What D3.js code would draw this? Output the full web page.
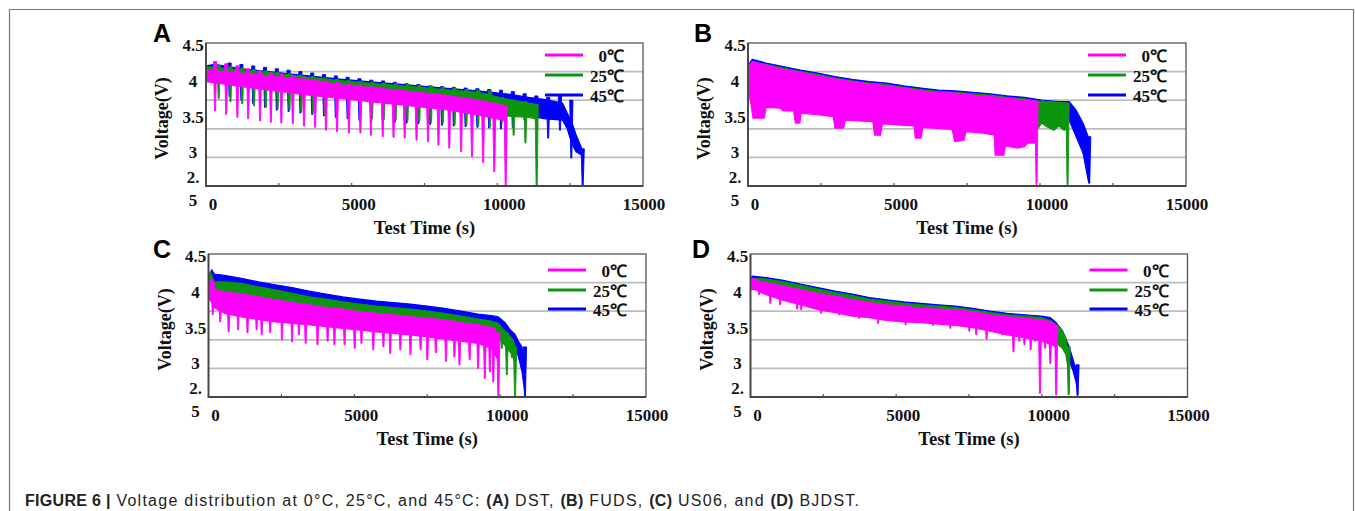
<!DOCTYPE html>
<html><head><meta charset="utf-8">
<script src="https://cdn.jsdelivr.net/npm/d3@7"></script>
<style>body{margin:0;background:#fff}svg{display:block}</style>
</head><body>
<svg id="chart" width="1355" height="511"></svg>
<script>
// ---------------- DATA ----------------
const seriesNames = [" 0℃", "25℃", "45℃"];
const seriesColors = ["#ff00ff", "#0d960d", "#0000ff"];
const xTickValues = [0, 5000, 10000, 15000];
const xMinorTicks = [2500, 5000, 7500, 10000, 12500];
const yTickValues = [4.5, 4, 3.5, 3];
const yTickLabels = ["4.5", "4", "3.5", "3"];
const yLastLabelParts = ["2.", "5"];
const yGridValues = [4.1, 3.7, 3.3, 2.9];
const panelLetters = ["A", "B", "C", "D"];
const xTitle = "Test Time (s)";
const yTitle = "Voltage(V)";

// Panel A - DST : [time, voltage] envelopes and [time, top, bottom] pulses
const dstPinkUpper = [[0,4.12],[1216,4.08],[2377,4.03],[3537,3.98],[4697,3.91],[5858,3.87],[7018,3.82],[8178,3.77],[9339,3.70],[10209,3.63],[10287,3.60]];
const dstPinkLower = [[0,3.96],[1216,3.89],[2377,3.83],[3537,3.77],[4697,3.72],[5858,3.67],[7018,3.62],[8178,3.57],[9339,3.49],[10209,3.42],[10287,3.40]];
const dstPinkPulses = [[311,4.24,3.55],[694,4.21,3.50],[1077,4.18,3.46],[1448,4.14,3.44],[1854,4.11,3.41],[2226,4.08,3.39],[2586,4.06,3.38],[2980,4.04,3.37],[3363,4.02,3.34],[3746,3.99,3.32],[4117,3.97,3.28],[4500,3.95,3.26],[4906,3.93,3.24],[5300,3.91,3.24],[5660,3.89,3.21],[6066,3.87,3.19],[6437,3.85,3.18],[6820,3.83,3.17],[7226,3.81,3.14],[7620,3.79,3.12],[7980,3.77,3.07],[8351,3.75,3.03],[8757,3.73,2.98],[9129,3.71,2.91],[9512,3.68,2.83],[9895,3.65,2.70],[10287,3.62,2.50]];
const dstGreenUpper = [[0,4.17],[1216,4.12],[2377,4.08],[3537,4.02],[4697,3.97],[5858,3.93],[7018,3.89],[8178,3.85],[9339,3.81],[10267,3.72],[11079,3.66],[11350,3.64]];
const dstGreenLower = [[0,3.97],[1216,3.92],[2377,3.87],[3537,3.81],[4697,3.76],[5858,3.71],[7018,3.67],[8178,3.62],[9339,3.56],[10267,3.48],[11079,3.46],[11350,3.44]];
const dstGreenPulses = [[435,4.19,3.72],[840,4.17,3.68],[1245,4.15,3.65],[1650,4.13,3.62],[2055,4.11,3.60],[2460,4.09,3.58],[2865,4.07,3.56],[3270,4.05,3.54],[3675,4.03,3.52],[4080,4.01,3.50],[4485,3.99,3.49],[4890,3.98,3.47],[5295,3.96,3.46],[5700,3.95,3.44],[6105,3.94,3.43],[6510,3.93,3.42],[6915,3.92,3.41],[7320,3.91,3.40],[7725,3.90,3.39],[8130,3.88,3.38],[8535,3.87,3.36],[8940,3.85,3.35],[9345,3.84,3.34],[9750,3.83,3.33],[10155,3.74,3.38],[10560,3.70,3.21],[10965,3.68,3.10],[11350,3.64,2.50]];
const dstBlueUpper = [[0,4.18],[300,4.20],[1216,4.14],[2377,4.09],[3537,4.04],[4697,3.99],[5858,3.95],[7018,3.91],[8178,3.87],[9339,3.83],[10499,3.78],[11079,3.74],[11659,3.71],[12239,3.66],[12400,3.52],[12550,3.40],[12700,3.22],[12820,3.10],[12900,3.02],[12930,2.95]];
const dstBlueLower = [[0,3.98],[1216,3.94],[2377,3.89],[3537,3.84],[4697,3.79],[5858,3.75],[7018,3.71],[8178,3.67],[9339,3.63],[10499,3.55],[11079,3.48],[11659,3.44],[12239,3.42],[12400,3.30],[12550,3.10],[12700,2.98],[12820,2.95],[12930,2.92]];
const dstBluePulses = [[810,4.22,3.75],[1215,4.20,3.70],[1620,4.18,3.65],[2025,4.16,3.60],[2430,4.14,3.56],[2835,4.12,3.54],[3240,4.10,3.52],[3645,4.08,3.50],[4050,4.06,3.48],[4455,4.04,3.46],[4860,4.02,3.44],[5265,4.00,3.42],[5670,3.98,3.41],[6075,3.97,3.40],[6480,3.95,3.39],[6885,3.93,3.38],[7290,3.92,3.37],[7695,3.90,3.36],[8100,3.89,3.35],[8505,3.88,3.34],[8910,3.87,3.33],[9315,3.86,3.32],[9720,3.85,3.31],[10125,3.84,3.30],[10530,3.82,3.32],[10935,3.79,3.42],[11340,3.76,3.40],[11745,3.74,3.17],[12150,3.76,3.28],[12540,3.70,2.89],[12930,3.02,2.50]];

// Panel B - FUDS
const fudsPinkUpper = [[0,4.17],[147,4.24],[619,4.19],[1209,4.13],[1799,4.09],[2389,4.04],[2979,4.00],[3569,3.96],[4159,3.93],[4748,3.90],[5338,3.87],[5928,3.83],[6518,3.81],[7108,3.80],[7698,3.77],[8288,3.75],[8878,3.73],[9468,3.70],[9822,3.69],[9881,3.68]];
const fudsPinkLower = [[0,3.85],[88,3.68],[171,3.45],[560,3.45],[619,3.60],[1091,3.59],[1209,3.55],[1563,3.55],[1622,3.38],[1775,3.38],[1822,3.52],[2507,3.49],[2920,3.47],[2979,3.31],[3274,3.31],[3333,3.42],[4277,3.40],[4336,3.21],[4537,3.21],[4607,3.37],[5220,3.35],[5692,3.34],[5727,3.17],[5928,3.17],[5987,3.32],[6990,3.29],[7084,3.12],[7403,3.14],[7462,3.26],[8052,3.24],[8430,3.21],[8465,2.93],[8760,2.93],[8819,3.06],[9232,3.03],[9468,3.05],[9586,3.10],[9822,3.10],[9881,3.10]];
const fudsPinkPulses = [[9881,3.68,2.52]];
const fudsGreenUpper = [[0,4.17],[147,4.24],[619,4.20],[1209,4.15],[1799,4.10],[2389,4.06],[2979,4.01],[3569,3.97],[4159,3.94],[4748,3.92],[5338,3.88],[5928,3.85],[6518,3.82],[7108,3.81],[7698,3.79],[8288,3.77],[8878,3.74],[9468,3.72],[9881,3.69],[10300,3.68],[10944,3.66]];
const fudsGreenLower = [[0,3.95],[1209,3.90],[2389,3.80],[3569,3.70],[4748,3.60],[5928,3.50],[7108,3.45],[8288,3.40],[9468,3.36],[9881,3.33],[9940,3.31],[10058,3.38],[10234,3.33],[10470,3.28],[10650,3.34],[10824,3.28],[10944,3.30]];
const fudsGreenPulses = [[10944,3.66,2.52]];
const fudsBlueUpper = [[0,4.19],[147,4.27],[619,4.22],[1209,4.17],[1799,4.12],[2389,4.08],[2979,4.03],[3569,3.99],[4159,3.96],[4748,3.94],[5338,3.90],[5928,3.87],[6518,3.84],[7108,3.83],[7698,3.81],[8288,3.79],[8878,3.76],[9468,3.74],[10058,3.70],[10648,3.68],[11002,3.68],[11238,3.56],[11474,3.38],[11651,3.19],[11686,3.00]];
const fudsBlueLower = [[0,4.00],[1209,3.98],[2389,3.90],[3569,3.82],[4748,3.78],[5928,3.72],[7108,3.68],[8288,3.64],[9468,3.60],[10058,3.55],[10648,3.45],[11002,3.42],[11238,3.19],[11474,2.96],[11651,2.58],[11686,2.54]];
const fudsBluePulses = [[11686,3.19,2.54]];

// Panel C - US06
const us06PinkUpper = [[0,4.05],[51,4.09],[109,4.16],[202,4.00],[549,3.97],[1129,3.94],[1709,3.90],[2288,3.86],[2867,3.82],[3447,3.79],[4027,3.75],[4606,3.73],[5186,3.69],[5765,3.67],[6345,3.65],[6926,3.62],[7505,3.60],[8084,3.58],[8664,3.54],[9243,3.51],[9707,3.47],[9881,3.41],[9938,3.35]];
const us06PinkLower = [[0,3.90],[51,3.86],[202,3.75],[549,3.67],[1129,3.62],[2288,3.55],[3447,3.51],[4606,3.46],[5765,3.41],[6926,3.37],[8084,3.31],[9243,3.25],[9707,3.18],[9881,3.05],[9938,3.00]];
const us06PinkPulses = [[146,4.10,3.65],[401,3.98,3.55],[690,3.96,3.41],[1013,3.95,3.44],[1337,3.93,3.40],[1650,3.91,3.44],[1824,3.89,3.37],[2114,3.87,3.40],[2520,3.85,3.30],[2867,3.82,3.27],[3099,3.81,3.37],[3331,3.80,3.25],[3737,3.77,3.23],[4085,3.75,3.28],[4317,3.74,3.23],[4665,3.72,3.23],[5012,3.70,3.18],[5244,3.69,3.25],[5650,3.67,3.16],[5998,3.66,3.20],[6230,3.65,3.11],[6577,3.64,3.16],[6925,3.62,3.09],[7272,3.61,3.16],[7504,3.60,3.02],[7794,3.59,3.12],[8142,3.58,3.00],[8431,3.56,3.06],[8605,3.55,2.95],[8953,3.53,3.02],[9243,3.51,2.90],[9474,3.49,2.76],[9648,3.47,2.85],[9764,3.46,2.71],[9938,3.40,2.50]];
const us06GreenUpper = [[0,4.15],[51,4.25],[109,4.20],[202,4.11],[549,4.11],[1129,4.09],[1709,4.04],[2288,4.00],[2867,3.95],[3447,3.90],[4027,3.87],[4606,3.83],[5186,3.80],[5765,3.77],[6345,3.75],[6926,3.73],[7505,3.70],[8084,3.67],[8664,3.63],[9243,3.59],[9707,3.56],[9938,3.53],[10112,3.44],[10286,3.37],[10402,3.32],[10495,3.23],[10518,3.10]];
const us06GreenLower = [[0,3.95],[1129,3.90],[2288,3.80],[3447,3.71],[4606,3.64],[5765,3.58],[6926,3.53],[8084,3.47],[9243,3.40],[9938,3.35],[10112,3.25],[10286,3.15],[10402,3.10],[10495,3.00],[10518,2.90]];
const us06GreenPulses = [[10054,3.45,3.18],[10228,3.40,2.81],[10402,3.30,3.05],[10510,3.20,2.50]];
const us06BlueUpper = [[0,4.18],[51,4.21],[109,4.28],[202,4.22],[549,4.20],[1129,4.16],[1709,4.11],[2288,4.07],[2867,4.03],[3447,3.98],[4027,3.94],[4606,3.90],[5186,3.87],[5765,3.84],[6345,3.82],[6926,3.80],[7505,3.77],[8084,3.74],[8664,3.70],[9243,3.66],[9707,3.64],[9938,3.62],[10170,3.54],[10344,3.44],[10518,3.37],[10634,3.27],[10750,3.20],[10808,2.99],[10866,2.50]];
const us06BlueLower = [[0,4.05],[1129,4.05],[2288,3.96],[3447,3.87],[4606,3.79],[5765,3.73],[6926,3.69],[8084,3.63],[9243,3.55],[9938,3.50],[10170,3.42],[10344,3.30],[10518,3.20],[10634,3.05],[10750,2.85],[10866,2.50]];
const us06BluePulses = [[10850,3.20,2.50]];

// Panel D - BJDST
const bjdstPinkUpper = [[0,4.12],[60,4.16],[300,4.12],[536,4.10],[1127,4.05],[1718,4.00],[2309,3.95],[2901,3.91],[3492,3.86],[4083,3.82],[4674,3.79],[5266,3.77],[5857,3.74],[6448,3.73],[7039,3.72],[7631,3.69],[8222,3.65],[8813,3.62],[9404,3.60],[9996,3.58],[10292,3.55],[10469,3.50],[10500,3.45]];
const bjdstPinkLower = [[0,4.02],[60,4.02],[536,3.93],[1127,3.85],[1718,3.79],[2309,3.72],[2901,3.68],[3492,3.63],[4083,3.61],[4674,3.57],[5266,3.55],[5857,3.54],[6448,3.52],[7039,3.50],[7631,3.47],[8222,3.42],[8813,3.37],[9404,3.33],[9996,3.28],[10292,3.24],[10469,3.20],[10500,3.18]];
const bjdstPinkPulses = [[299,4.10,3.93],[679,4.08,3.81],[1010,4.06,3.79],[1600,4.01,3.73],[1742,4.00,3.72],[2427,3.94,3.67],[3042,3.90,3.65],[3728,3.85,3.60],[4379,3.81,3.53],[4911,3.78,3.56],[5325,3.77,3.51],[5857,3.74,3.55],[6271,3.73,3.50],[6862,3.72,3.46],[7512,3.70,3.42],[7749,3.69,3.37],[8104,3.66,3.31],[8636,3.63,3.37],[9026,3.62,3.13],[9227,3.61,3.28],[9404,3.60,3.23],[9617,3.59,3.16],[9759,3.58,3.28],[9937,3.58,2.55],[10114,3.57,3.18],[10292,3.55,2.97],[10493,3.50,2.53]];
const bjdstGreenUpper = [[0,4.12],[60,4.16],[536,4.15],[1127,4.11],[1718,4.06],[2309,4.01],[2901,3.96],[3492,3.92],[4083,3.87],[4674,3.84],[5266,3.81],[5857,3.79],[6448,3.77],[7039,3.75],[7631,3.72],[8222,3.68],[8813,3.65],[9404,3.63],[9996,3.61],[10292,3.57],[10469,3.52],[10587,3.48],[10705,3.42],[10823,3.33],[10900,3.15],[10930,2.55]];
const bjdstGreenLower = [[0,4.00],[536,4.03],[1127,3.99],[1718,3.94],[2309,3.89],[2901,3.84],[3492,3.80],[4083,3.75],[4674,3.72],[5266,3.69],[5857,3.67],[6448,3.65],[7039,3.63],[7631,3.60],[8222,3.56],[8813,3.53],[9404,3.50],[9996,3.45],[10292,3.38],[10469,3.30],[10587,3.22],[10705,3.18],[10823,3.10],[10900,2.90],[10930,2.55]];
const bjdstGreenPulses = [[10587,3.45,3.23],[10920,3.20,2.53]];
const bjdstBlueUpper = [[0,4.14],[60,4.19],[536,4.17],[1127,4.13],[1718,4.08],[2309,4.03],[2901,3.98],[3492,3.94],[4083,3.89],[4674,3.86],[5266,3.83],[5857,3.81],[6448,3.79],[7039,3.77],[7631,3.74],[8222,3.70],[8813,3.67],[9404,3.65],[9996,3.63],[10292,3.61],[10469,3.55],[10705,3.43],[10823,3.32],[10942,3.20],[11060,3.04],[11179,2.88],[11238,2.55]];
const bjdstBlueLower = [[0,4.07],[536,4.10],[1127,4.06],[1718,4.01],[2309,3.96],[2901,3.91],[3492,3.87],[4083,3.82],[4674,3.79],[5266,3.76],[5857,3.74],[6448,3.72],[7039,3.70],[7631,3.67],[8222,3.63],[8813,3.60],[9404,3.58],[9996,3.55],[10292,3.50],[10469,3.40],[10705,3.25],[10823,3.12],[10942,3.00],[11060,2.88],[11179,2.70],[11238,2.55]];
const bjdstBluePulses = [[11225,2.95,2.52]];

const captionParts = [
  ["FIGURE 6 |", true], [" Voltage distribution at 0°C, 25°C, and 45°C: ", false],
  ["(A)", true], [" DST, ", false], ["(B)", true], [" FUDS, ", false],
  ["(C)", true], [" US06, and ", false], ["(D)", true], [" BJDST.", false]
];

// ---------------- LAYOUT ----------------
const panels = [
  {letter: panelLetters[0], left: 206, right: 643, top: 43, bottom: 186, lx: 153, ly: 42, legY: [12, 32, 52],
   series: [[dstBlueUpper, dstBlueLower, dstBluePulses, 2], [dstGreenUpper, dstGreenLower, dstGreenPulses, 1], [dstPinkUpper, dstPinkLower, dstPinkPulses, 0]]},
  {letter: panelLetters[1], left: 748, right: 1186, top: 43, bottom: 186, lx: 694, ly: 42, legY: [12, 32, 52],
   series: [[fudsBlueUpper, fudsBlueLower, fudsBluePulses, 2], [fudsGreenUpper, fudsGreenLower, fudsGreenPulses, 1], [fudsPinkUpper, fudsPinkLower, fudsPinkPulses, 0]]},
  {letter: panelLetters[2], left: 208.5, right: 646, top: 254, bottom: 397, lx: 153, ly: 258, legY: [16, 36, 55],
   series: [[us06BlueUpper, us06BlueLower, us06BluePulses, 2], [us06GreenUpper, us06GreenLower, us06GreenPulses, 1], [us06PinkUpper, us06PinkLower, us06PinkPulses, 0]]},
  {letter: panelLetters[3], left: 750.5, right: 1187.5, top: 254, bottom: 397, lx: 692, ly: 258, legY: [16, 36, 55],
   series: [[bjdstBlueUpper, bjdstBlueLower, bjdstBluePulses, 2], [bjdstGreenUpper, bjdstGreenLower, bjdstGreenPulses, 1], [bjdstPinkUpper, bjdstPinkLower, bjdstPinkPulses, 0]]}
];

const SERIF = "'Liberation Serif','Times New Roman',serif";
const SANS = "'Liberation Sans',Arial,sans-serif";
const svg = d3.select("#chart");

// outer figure frame
svg.append("path").attr("d", "M9.5,511 V9.5 H1353.5 V511").attr("fill", "none").attr("stroke", "#777").attr("stroke-width", 1.2);

panels.forEach((p, pi) => {
  const x = d3.scaleLinear().domain([0, 15000]).range([p.left, p.right]);
  const y = d3.scaleLinear().domain([2.5, 4.5]).range([p.bottom, p.top]);
  const g = svg.append("g");
  const clipId = "clip" + pi;
  svg.append("clipPath").attr("id", clipId).append("rect")
    .attr("x", p.left).attr("y", p.top).attr("width", p.right - p.left).attr("height", p.bottom - p.top);

  // gridlines
  g.selectAll(".grid").data(yGridValues).join("line")
    .attr("x1", p.left).attr("x2", p.right).attr("y1", d => y(d)).attr("y2", d => y(d))
    .attr("stroke", "#bdbdbd").attr("stroke-width", 1.8);

  // data
  const line = d3.line().x(d => x(d[0])).y(d => y(d[1]));
  const dg = g.append("g").attr("clip-path", `url(#${clipId})`);
  p.series.forEach(([upper, lower, pulses, ci]) => {
    const col = seriesColors[ci];
    const pts = upper.concat(lower.slice().reverse());
    dg.append("path").attr("d", line(pts) + "Z").attr("fill", col)
      .attr("stroke", col).attr("stroke-width", 1.2).attr("stroke-linejoin", "round");
    // each pulse drawn as a narrow V-shaped spike
    dg.selectAll(null).data(pulses).join("path")
      .attr("d", d => {
        const xc = x(d[0]), y1 = y(d[1]), y2 = y(d[2]);
        return `M${xc - 1.6},${y1} L${xc - 0.5},${y2} L${xc + 0.5},${y2} L${xc + 1.6},${y1} Z`;
      })
      .attr("fill", col).attr("stroke", col).attr("stroke-width", 0.9).attr("stroke-linejoin", "round");
  });

  // frame
  g.append("rect").attr("x", p.left).attr("y", p.top).attr("width", p.right - p.left).attr("height", p.bottom - p.top)
    .attr("fill", "none").attr("stroke", "#555").attr("stroke-width", 1.3);
  g.append("path").attr("d", `M${p.left},${p.top} V${p.bottom} H${p.right}`)
    .attr("fill", "none").attr("stroke", "#444").attr("stroke-width", 1.8);

  // minor ticks (inward)
  g.selectAll(".mt").data(xMinorTicks).join("line")
    .attr("x1", d => x(d)).attr("x2", d => x(d)).attr("y1", p.bottom).attr("y2", p.bottom - 3)
    .attr("stroke", "#555").attr("stroke-width", 1.2);

  // x tick labels
  g.selectAll(".xl").data(xTickValues).join("text")
    .attr("x", d => x(d) + (d === 15000 ? 1 : 7)).attr("y", p.bottom + 24)
    .attr("text-anchor", "middle").attr("font-family", SERIF).attr("font-weight", "bold")
    .attr("font-size", 17).attr("fill", "#111").text(d => d);

  // y tick labels
  g.selectAll(".yl").data(yTickValues).join("text")
    .attr("x", p.left - 13).attr("y", d => y(d) + 2.5).attr("dominant-baseline", "central")
    .attr("text-anchor", "middle").attr("font-family", SERIF).attr("font-weight", "bold")
    .attr("font-size", 17).attr("fill", "#111").text((d, i) => yTickLabels[i]);
  g.append("text").attr("x", p.left - 13).attr("y", y(2.5) - 8.5).attr("dominant-baseline", "central")
    .attr("text-anchor", "middle").attr("font-family", SERIF).attr("font-weight", "bold")
    .attr("font-size", 17).attr("fill", "#111").text(yLastLabelParts[0]);
  g.append("text").attr("x", p.left - 13).attr("y", y(2.5) + 14).attr("dominant-baseline", "central")
    .attr("text-anchor", "middle").attr("font-family", SERIF).attr("font-weight", "bold")
    .attr("font-size", 17).attr("fill", "#111").text(yLastLabelParts[1]);

  // axis titles
  g.append("text").attr("x", (p.left + p.right) / 2).attr("y", p.bottom + 48)
    .attr("text-anchor", "middle").attr("font-family", SERIF).attr("font-weight", "bold")
    .attr("font-size", 18.5).attr("fill", "#111").text(xTitle);
  const cy = (p.top + p.bottom) / 2 + 4, cx = p.left - 44;
  g.append("text").attr("transform", `translate(${cx},${cy}) rotate(-90)`)
    .attr("text-anchor", "middle").attr("dominant-baseline", "central")
    .attr("font-family", SERIF).attr("font-weight", "bold").attr("font-size", 18).attr("fill", "#111").text(yTitle);

  // panel letter
  g.append("text").attr("x", p.lx).attr("y", p.ly).attr("font-family", SANS).attr("font-weight", "bold")
    .attr("font-size", 25).attr("fill", "#000").text(p.letter);

  // legend
  seriesNames.forEach((name, i) => {
    const ly = p.top + p.legY[i];
    g.append("line").attr("x1", p.right - 98).attr("x2", p.right - 60).attr("y1", ly).attr("y2", ly)
      .attr("stroke", seriesColors[i]).attr("stroke-width", 3);
    g.append("text").attr("x", p.right - 19).attr("y", ly + 1).attr("dominant-baseline", "central")
      .attr("text-anchor", "end").attr("font-family", SERIF).attr("font-weight", "bold")
      .attr("font-size", 17).attr("fill", "#111").attr("xml:space", "preserve").text(name);
  });
});

// caption
const cap = svg.append("text").attr("x", 25).attr("y", 506).attr("font-family", SANS).attr("font-size", 16).attr("fill", "#222");
captionParts.forEach(([t, b]) => {
  cap.append("tspan").attr("font-weight", b ? "bold" : "normal")
    .attr("letter-spacing", b ? 0.3 : 1.25).attr("xml:space", "preserve").text(t);
});
</script>
</body></html>
